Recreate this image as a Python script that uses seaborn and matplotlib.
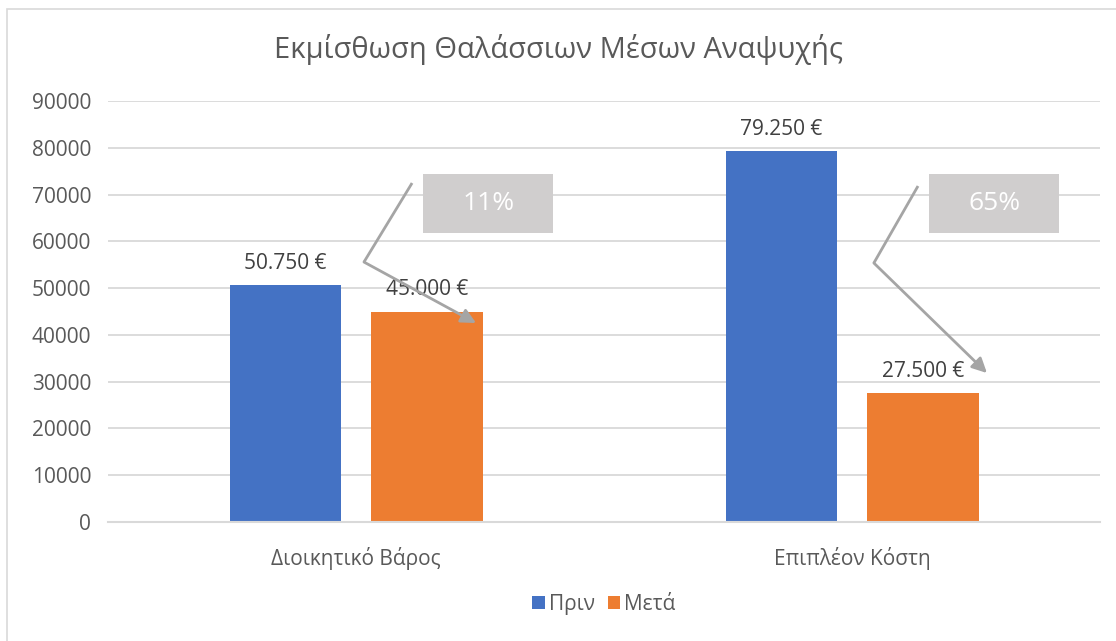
import matplotlib
matplotlib.use("Agg")
import matplotlib.pyplot as plt
import pandas as pd
import seaborn as sns
from matplotlib.patches import Rectangle

# data
categories = ["Διοικητικό Βάρος", "Επιπλέον Κόστη"]
series = ["Πριν", "Μετά"]
before = [50750, 79250]
after = [45000, 27500]
title = "Εκμίσθωση Θαλάσσιων Μέσων Αναψυχής"
yticks = list(range(0, 90001, 10000))

colors = {"Πριν": "#4472C4", "Μετά": "#ED7D31"}

df = pd.DataFrame({
    "cat": categories * 2,
    "series": [series[0]] * 2 + [series[1]] * 2,
    "value": before + after,
})

sns.set_style("white")
plt.rcParams["font.family"] = ["Open Sans", "DejaVu Sans"]

fig = plt.figure(figsize=(11.16, 6.41), dpi=100)
ax = fig.add_axes([0.0968, 0.1856, 0.8889, 0.6568])

sns.barplot(data=df, x="cat", y="value", hue="series", palette=colors,
            width=0.57, gap=0.21, ax=ax, legend=True, saturation=1, linewidth=0)

ax.set_ylim(0, 90000)
ax.set_xlim(-0.5, 1.5)
ax.set_yticks(yticks)
ax.set_yticklabels([str(t) for t in yticks])
ax.grid(axis="y", color="#D9D9D9", linewidth=1.3)
ax.set_axisbelow(True)
for s in ["top", "right", "left"]:
    ax.spines[s].set_visible(False)
ax.spines["bottom"].set_color("#D9D9D9")
ax.spines["bottom"].set_linewidth(1.5)
ax.tick_params(axis="both", length=0, labelsize=15, colors="#595959", pad=12)
ax.tick_params(axis="x", pad=18)
ax.set_xlabel("")
ax.set_ylabel("")

# data labels
for cont in ax.containers:
    labels = [f"{int(v):,} €".replace(",", ".") for v in cont.datavalues]
    ax.bar_label(cont, labels=labels, padding=8, fontsize=15, color="#404040")

# callouts with percent change
box_x = [0.135, 0.155]
line_pts = [
    [(0.113, 72470), (0.016, 55580), (0.242, 42540)],
    [(0.133, 71830), (0.044, 55370), (0.272, 31850)],
]
for i in range(len(categories)):
    pct = round((before[i] - after[i]) / before[i] * 100)
    ax.add_patch(Rectangle((i + box_x[i], 61780), 0.263, 12700,
                           facecolor="#D0CECE", edgecolor="none", zorder=4))
    ax.text(i + box_x[i] + 0.1315, 61780 + 6350, f"{pct}%", color="white",
            fontsize=19, ha="center", va="center", zorder=5)
    p0, p1, p2 = [(i + x, y) for x, y in line_pts[i]]
    ax.plot([p0[0], p1[0]], [p0[1], p1[1]], color="#A5A5A5", lw=2, zorder=4,
            solid_capstyle="butt")
    ax.annotate("", xy=p2, xytext=p1,
                arrowprops=dict(arrowstyle="-|>", color="#A5A5A5", lw=2,
                                mutation_scale=22, shrinkA=0, shrinkB=0),
                zorder=4)

# legend
leg = ax.legend(loc="center", bbox_to_anchor=(0.5, -0.195), ncol=2, frameon=False,
                fontsize=15, handlelength=0.6, handleheight=0.6, handletextpad=0.2,
                columnspacing=0.6)
for t in leg.get_texts():
    t.set_color("#595959")

fig.suptitle(title, y=0.922, fontsize=21, color="#595959", va="center")

# chart border
fig.patches.append(Rectangle((0.0063, -0.01), 1.0, 0.996, transform=fig.transFigure,
                             fill=False, edgecolor="#D9D9D9", linewidth=1.2))

fig.savefig("out.png", dpi=100, facecolor="white")
